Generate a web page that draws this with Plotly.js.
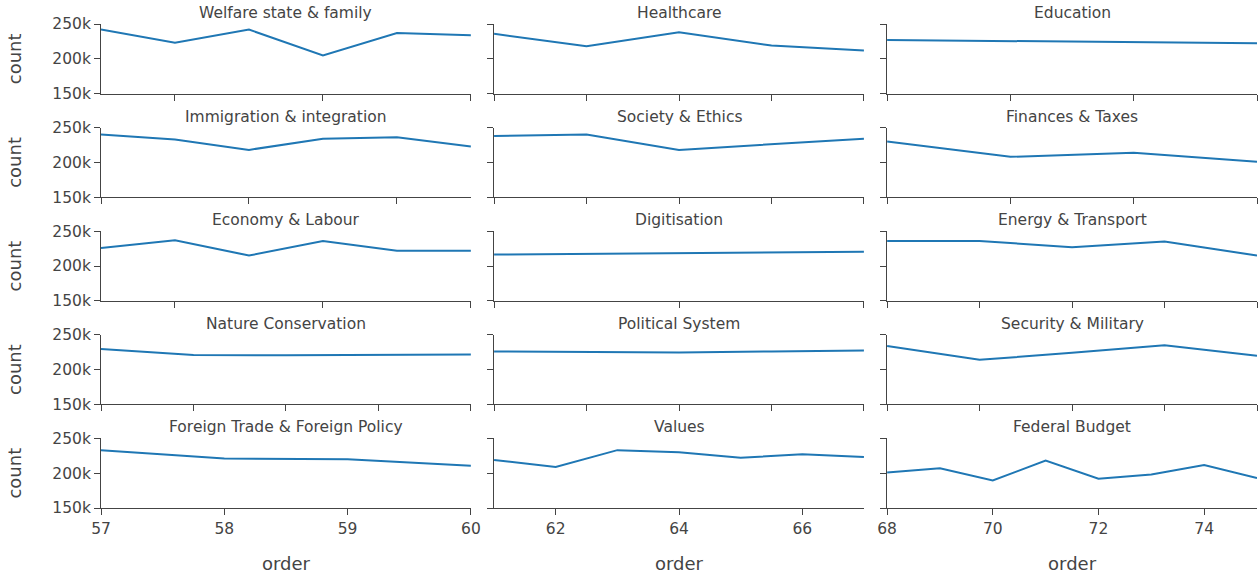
<!DOCTYPE html>
<html>
<head>
<meta charset="utf-8">
<script src="https://cdn.plot.ly/plotly-3.0.1.min.js"></script>
<style>html,body{margin:0;padding:0;background:#fff;}#chart{width:1259px;height:577px;}</style>
</head>
<body>
<div id="chart"></div>
<script>
// Topics (facets), in reading order: left to right, top to bottom
const topics = [
  "Welfare state & family", "Healthcare", "Education",
  "Immigration & integration", "Society & Ethics", "Finances & Taxes",
  "Economy & Labour", "Digitisation", "Energy & Transport",
  "Nature Conservation", "Political System", "Security & Military",
  "Foreign Trade & Foreign Policy", "Values", "Federal Budget"
];

// x values ("order") per topic
const orderWelfare   = [1, 2, 3, 4, 5, 6];
const orderHealth    = [7, 8, 9, 10, 11];
const orderEducation = [12, 13, 14, 15];
const orderImmig     = [16, 17, 18, 19, 20, 21];
const orderSociety   = [22, 23, 24, 25, 26];
const orderFinances  = [27, 28, 29, 30];
const orderEconomy   = [31, 32, 33, 34, 35, 36];
const orderDigital   = [37, 38, 39];
const orderEnergy    = [40, 41, 42, 43, 44];
const orderNature    = [45, 46, 47, 48, 49];
const orderPolitical = [50, 51, 52, 53, 54];
const orderSecurity  = [52, 53, 54, 55, 56];
const orderForeign   = [57, 58, 59, 60];
const orderValues    = [61, 62, 63, 64, 65, 66, 67];
const orderBudget    = [68, 69, 70, 71, 72, 73, 74, 75];

// y values ("count") per topic
const countWelfare   = [242000, 223000, 242000, 205000, 237000, 234000];
const countHealth    = [236000, 218000, 238000, 219000, 212000];
const countEducation = [227000, 225500, 224000, 222500];
const countImmig     = [240000, 233000, 218000, 234000, 236000, 223000];
const countSociety   = [238000, 240000, 218000, 226000, 234000];
const countFinances  = [230000, 208000, 214000, 201000];
const countEconomy   = [226000, 237000, 215000, 236000, 222000, 222000];
const countDigital   = [216500, 218500, 220500];
const countEnergy    = [236000, 236000, 227000, 235000, 215000];
const countNature    = [229500, 221000, 220500, 221000, 221500];
const countPolitical = [226000, 225000, 224500, 226000, 227500];
const countSecurity  = [234000, 214000, 224000, 235000, 220000];
const countForeign   = [233000, 221000, 220000, 210500];
const countValues    = [219000, 209000, 233000, 230000, 222000, 227000, 223000];
const countBudget    = [201000, 207000, 189500, 218000, 192000, 198000, 211500, 193000];

const xData = [orderWelfare, orderHealth, orderEducation, orderImmig, orderSociety, orderFinances,
  orderEconomy, orderDigital, orderEnergy, orderNature, orderPolitical, orderSecurity,
  orderForeign, orderValues, orderBudget];
const yData = [countWelfare, countHealth, countEducation, countImmig, countSociety, countFinances,
  countEconomy, countDigital, countEnergy, countNature, countPolitical, countSecurity,
  countForeign, countValues, countBudget];
// tick step per facet x axis
const xStep = [2, 1, 1, 2, 1, 1, 2, 1, 1, 1, 1, 1, 1, 2, 2];

const yTickVals = [150000, 200000, 250000];

const FONT = "DejaVu Sans, Verdana, sans-serif";
const TXT = "#444";
const LINE = "#1f77b4";
const FS = 15.5;

const ncols = 3, nrows = 5;
const colGap = 0.02, rowGap = 0.07;
const cw = (1 - colGap * (ncols - 1)) / ncols;
const rh = (1 - rowGap * (nrows - 1)) / nrows;

const traces = [];
const layout = {
  width: 1259, height: 577,
  margin: {l: 101, r: 2, t: 24, b: 69},
  paper_bgcolor: "#fff", plot_bgcolor: "#fff",
  font: {family: FONT, size: FS, color: TXT},
  showlegend: false,
  annotations: []
};

topics.forEach((name, i) => {
  const r = Math.floor(i / ncols), c = i % ncols;
  const id = i + 1;
  const xa = "x" + (id === 1 ? "" : id), ya = "y" + (id === 1 ? "" : id);
  const xkey = "xaxis" + (id === 1 ? "" : id), ykey = "yaxis" + (id === 1 ? "" : id);
  const x0 = c * (cw + colGap), x1 = x0 + cw;
  const top = 1 - r * (rh + rowGap), bot = top - rh;
  traces.push({
    type: "scatter", mode: "lines", name: name,
    x: xData[i], y: yData[i], xaxis: xa, yaxis: ya,
    line: {color: LINE, width: 2}
  });
  const isBottom = r === nrows - 1;
  layout[xkey] = {
    domain: [x0, x1], anchor: ya,
    showline: true, linecolor: TXT, linewidth: 1,
    ticks: "outside", ticklen: 6, tickcolor: TXT,
    showgrid: false, zeroline: false,
    tickmode: "linear", tick0: 0, dtick: xStep[i],
    showticklabels: isBottom,
    tickfont: {family: FONT, size: FS, color: TXT},
    automargin: false,
    title: isBottom ? {text: "order", standoff: 20, font: {family: FONT, size: 18, color: TXT}} : {text: ""}
  };
  layout[ykey] = {
    domain: [bot, top], anchor: xa,
    range: [150000, 250000],
    tickmode: "array", tickvals: yTickVals,
    showline: true, linecolor: TXT, linewidth: 1,
    ticks: "outside", ticklen: 6, tickcolor: TXT,
    showgrid: false, zeroline: false,
    showticklabels: c === 0,
    tickfont: {family: FONT, size: FS, color: TXT},
    automargin: false,
    title: c === 0 ? {text: "count", standoff: 26, font: {family: FONT, size: 18, color: TXT}} : {text: ""}
  };
  layout.annotations.push({
    text: name, xref: "paper", yref: "paper",
    x: (x0 + x1) / 2, y: top, xanchor: "center", yanchor: "bottom",
    showarrow: false, font: {family: FONT, size: FS, color: TXT}
  });
});

Plotly.newPlot("chart", traces, layout, {displayModeBar: false, staticPlot: true});
</script>
</body>
</html>
